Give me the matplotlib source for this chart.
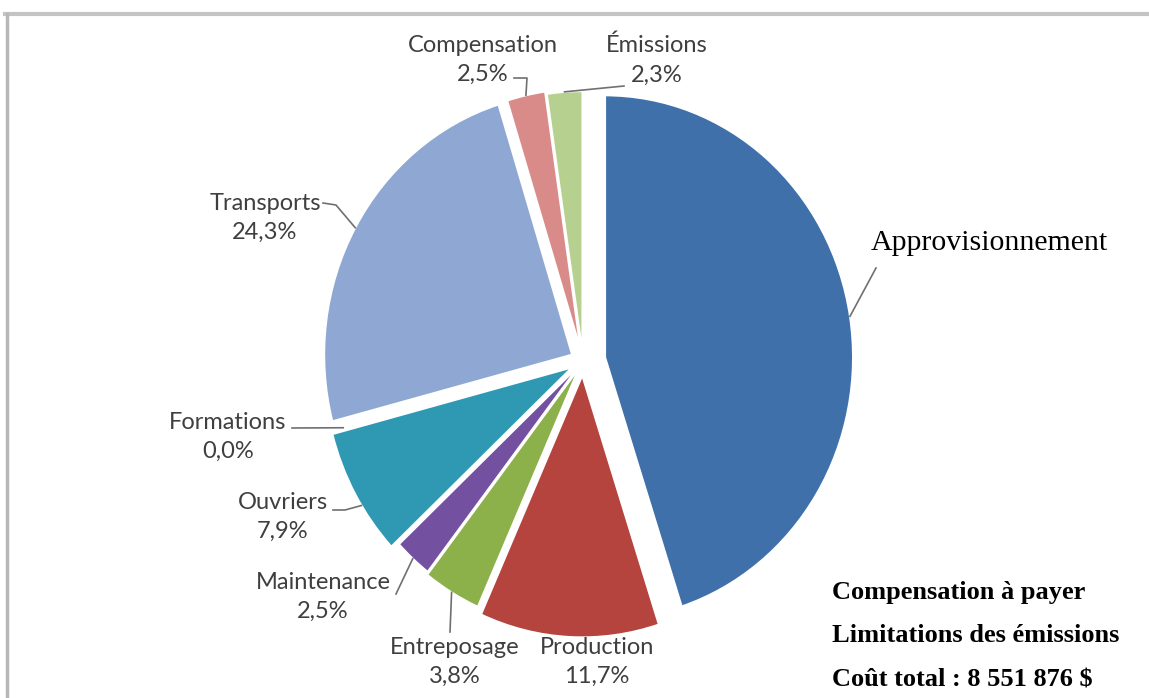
import numpy as np
import matplotlib.pyplot as plt
from matplotlib.lines import Line2D

W, H = 1149, 698

# data, clockwise from 12 o'clock
labels = ["Approvisionnement", "Production", "Entreposage", "Maintenance", "Ouvriers",
          "Formations", "Transports", "Compensation", "Émissions"]
values = [45.0, 11.7, 3.8, 2.5, 7.9, 0.0, 24.3, 2.5, 2.3]
pct_text = ["45,0%", "11,7%", "3,8%", "2,5%", "7,9%", "0,0%", "24,3%", "2,5%", "2,3%"]
colors = ["#4070aa", "#b5443f", "#8cb04a", "#7350a0", "#2f99b3",
          "#f79646", "#8fa8d3", "#d98b8a", "#b6d18f"]
explode = [0.09, 0.055, 0.03, 0.02, 0.05, 0.0, 0.05, 0.04, 0.03]
notes = ["Compensation à payer", "Limitations des émissions", "Coût total : 8 551 876 $"]

fig = plt.figure(figsize=(W / 100, H / 100), dpi=100)

# pie axes, slightly taller than wide like the original
cx, cy, rx, ry, lim = 583, 361, 248, 262, 1.25
ax = fig.add_axes([(cx - lim * rx) / W, (H - cy - lim * ry) / H,
                   2 * lim * rx / W, 2 * lim * ry / H])
wedges, _ = ax.pie(values, colors=colors, explode=explode, startangle=90,
                   counterclock=False, radius=1,
                   wedgeprops=dict(edgecolor="white", linewidth=1.5))
for w in wedges:
    w.set_clip_on(False)
ax.set_xlim(-lim, lim)
ax.set_ylim(-lim, lim)
ax.set_aspect("auto")
ax.axis("off")


def edge_pt(w, frac):
    t = np.deg2rad(w.theta1 + frac * (w.theta2 - w.theta1))
    return (w.center[0] + w.r * np.cos(t), w.center[1] + w.r * np.sin(t))


# label block positions (pixels from top-left) and leader anchors
lab_pos = {"Production": (597, 662), "Entreposage": (455, 662), "Maintenance": (323, 597),
           "Ouvriers": (283, 517), "Formations": (228, 437), "Transports": (265, 218),
           "Compensation": (483, 60), "Émissions": (657, 60)}
lead = {  # (fraction along arc, text-side points in pixels)
    "Entreposage": (0.5, [(450, 632)]),
    "Maintenance": (0.5, [(396, 594)]),
    "Ouvriers": (0.6, [(345, 510), (333, 510)]),
    "Formations": (0.0, [(292, 428)]),
    "Transports": (0.5, [(336, 205), (323, 203)]),
    "Compensation": (0.5, [(527, 78), (514, 78)]),
    "Émissions": (0.5, [(624, 86)]),
}

font = ["Lato", "DejaVu Sans"]
for w, lab, pct in zip(wedges, labels, pct_text):
    if lab == "Approvisionnement":
        continue
    x, y = lab_pos[lab]
    fig.text(x / W, (H - y) / H, lab + "\n" + pct, ha="center", va="center",
             fontsize=17, color="#3f3f3f", family=font, linespacing=1.5)
    if lab in lead:
        frac, pts = lead[lab]
        p = ax.transData.transform(edge_pt(w, frac))
        xs = [p[0]] + [q[0] for q in pts]
        ys = [p[1]] + [H - q[1] for q in pts]
        fig.add_artist(Line2D(xs, ys, transform=None, color="#707070", lw=1.2))

# Approvisionnement leader and label
p = ax.transData.transform(edge_pt(wedges[0], 0.5))
fig.add_artist(Line2D([p[0], 876], [p[1], H - 268], transform=None, color="#707070", lw=1.2))
fig.text(989 / W, (H - 243) / H, "Approvisionnement", ha="center", va="center",
         fontsize=21.5, family="Liberation Serif", color="black")

for i, t in enumerate(notes):
    fig.text(832 / W, (H - 592 - 44 * i) / H, t, ha="left", va="center",
             fontsize=19, family="Liberation Serif", weight="bold", color="black")

# grey frame lines (top and left)
fig.add_artist(Line2D([5, W], [H - 14, H - 14], transform=None, color="#c4c4c4", lw=3))
fig.add_artist(Line2D([7, 7], [H - 14, 0], transform=None, color="#b8b8b8", lw=2.5))

fig.savefig("out.png", dpi=100)
